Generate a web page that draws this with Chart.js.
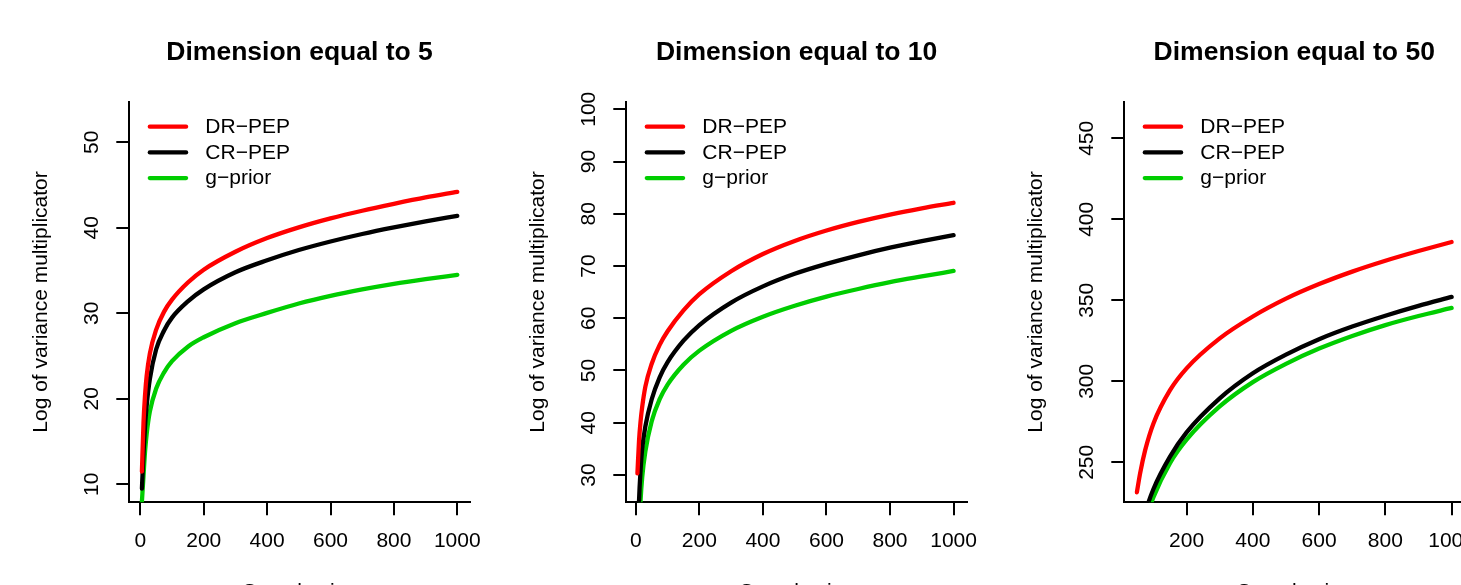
<!DOCTYPE html>
<html>
<head>
<meta charset="utf-8">
<script src="https://cdn.jsdelivr.net/npm/chart.js@4.4.0/dist/chart.umd.min.js"></script>
<style>
  html, body { margin: 0; padding: 0; background: #fff; overflow: hidden; }
  body { width: 1461px; height: 585px; position: relative; }
  .panel { position: absolute; top: 0; width: 520px; height: 620px; }
</style>
</head>
<body>
<div class="panel" style="left:0px"><canvas id="c5"></canvas></div>
<div class="panel" style="left:497px"><canvas id="c10"></canvas></div>
<div class="panel" style="left:995px"><canvas id="c50"></canvas></div>
<script>
// ---- data ----
const seriesNames = ['DR\u2212PEP', 'CR\u2212PEP', 'g\u2212prior'];
const seriesColors = ['#ff0000', '#000000', '#00cd00'];

// dimension 5
const sizes5 = [5, 10, 15, 20, 30, 50, 75, 100, 150, 200, 300, 400, 500, 600, 700, 800, 900, 1000];
const drpep5 = [11.5, 17.2, 20.5, 22.7, 25.3, 28.1, 30.2, 31.6, 33.6, 35.1, 37.2, 38.8, 40.05, 41.1, 42.0, 42.8, 43.55, 44.2];
const crpep5 = [9.5, 13.6, 16.9, 19.2, 22.3, 25.8, 28.0, 29.5, 31.4, 32.8, 34.8, 36.2, 37.4, 38.4, 39.28, 40.05, 40.75, 41.4];
const gprior5 = [8.0, 11.0, 13.9, 15.9, 18.5, 21.2, 23.1, 24.4, 26.1, 27.2, 28.85, 30.05, 31.15, 32.05, 32.8, 33.45, 34.0, 34.5];

// dimension 10
const sizes10 = [5, 10, 15, 20, 30, 50, 75, 100, 150, 200, 300, 400, 500, 600, 700, 800, 900, 1000];
const drpep10 = [30.3, 36.5, 40.3, 43.0, 46.9, 51.3, 54.9, 57.5, 61.5, 64.6, 69.0, 72.3, 74.8, 76.8, 78.45, 79.85, 81.05, 82.1];
const crpep10 = [14.0, 25.0, 31.0, 35.0, 39.3, 44.5, 48.7, 51.6, 55.7, 58.7, 63.0, 66.1, 68.5, 70.4, 72.05, 73.5, 74.75, 75.9];
const gprior10 = [5.0, 18.0, 25.2, 29.5, 34.5, 40.3, 44.5, 47.3, 51.1, 53.8, 57.6, 60.3, 62.4, 64.15, 65.6, 66.9, 68.0, 69.05];

// dimension 50
const sizes50 = [50, 60, 75, 100, 150, 200, 300, 400, 500, 600, 700, 800, 900, 1000];
const drpep50 = [231.5, 243.5, 257.5, 274, 294.5, 308, 326.5, 340, 351, 360, 367.7, 374.4, 380.4, 386];
const crpep50 = [198, 207.5, 219, 233.5, 253.5, 268.5, 289.5, 305, 316.5, 326, 333.8, 340.5, 346.6, 352.1];
const gprior50 = [194, 203, 214, 228.5, 249.5, 264, 284.5, 299.5, 310.8, 320.2, 328, 334.7, 340.3, 345.3];

// tick labels
const xTicks5 = [0, 200, 400, 600, 800, 1000];
const xTicks10 = [0, 200, 400, 600, 800, 1000];
const xTicks50 = [200, 400, 600, 800, 1000];
const yTicks5 = [10, 20, 30, 40, 50];
const yTicks10 = [30, 40, 50, 60, 70, 80, 90, 100];
const yTicks50 = [250, 300, 350, 400, 450];

const FONT = '"Liberation Sans", Arial, Helvetica, sans-serif';
const CANVAS_W = 520;
Chart.defaults.font.family = FONT;
Chart.defaults.font.size = 21;
Chart.defaults.color = '#000';

// measure widest y label so the rotated labels sit at a fixed distance from the axis
const mctx = document.createElement('canvas').getContext('2d');
mctx.font = '21px ' + FONT;
function widest(labels) {
    return Math.max(...labels.map(v => mctx.measureText(String(v)).width));
}

// R style legend drawn inside the plot area
const insetLegend = {
    id: 'insetLegend',
    afterDatasetsDraw(chart) {
        const { ctx, chartArea } = chart;
        ctx.save();
        ctx.font = '21px ' + FONT;
        ctx.textBaseline = 'middle';
        chart.data.datasets.forEach((ds, i) => {
            const y = chartArea.top + 25 + i * 25.7;
            ctx.strokeStyle = ds.borderColor;
            ctx.lineWidth = 4.3;
            ctx.lineCap = 'round';
            ctx.beginPath();
            ctx.moveTo(chartArea.left + 20.5, y);
            ctx.lineTo(chartArea.left + 56.8, y);
            ctx.stroke();
            ctx.fillStyle = '#000';
            ctx.fillText(ds.label, chartArea.left + 76, y + 0.6);
        });
        ctx.restore();
    }
};

function makePanel(id, dim, sizes, series, xRange, yRange, xTicks, yTicks, plotWidth) {
    const yPad = 36.6 - 13 - widest(yTicks) / 2;
    return new Chart(document.getElementById(id), {
        type: 'line',
        data: {
            datasets: series.map((vals, i) => ({
                label: seriesNames[i],
                data: sizes.map((x, j) => ({ x, y: vals[j] })),
                borderColor: seriesColors[i],
                borderWidth: 4.3,
                borderCapStyle: 'round',
                pointRadius: 0,
                cubicInterpolationMode: 'monotone',
                clip: 0
            }))
        },
        options: {
            responsive: true,
            maintainAspectRatio: false,
            animation: false,
            layout: { padding: { left: 0, top: 0, bottom: 0, right: CANVAS_W - 129.3 - plotWidth } },
            plugins: {
                legend: { display: false },
                tooltip: { enabled: false },
                title: {
                    display: true,
                    fullSize: false,
                    text: 'Dimension equal to ' + dim,
                    font: { size: 26.5, weight: 'bold' },
                    color: '#000',
                    padding: { top: 37, bottom: 32.9 }
                }
            },
            scales: {
                x: {
                    type: 'linear',
                    min: xRange[0],
                    max: xRange[1],
                    afterBuildTicks: s => { s.ticks = xTicks.map(v => ({ value: v })); },
                    afterFit: s => { s.height = 620 - 502.3; },
                    ticks: { autoSkip: false, maxRotation: 0, padding: 13.5, callback: v => String(v) },
                    grid: { drawOnChartArea: false, drawTicks: true, tickLength: 13, color: '#000', lineWidth: 2 },
                    border: { display: true, color: '#000', width: 2 },
                    title: { display: true, text: 'Sample size', padding: { top: 0, bottom: 15.2 } }
                },
                y: {
                    type: 'linear',
                    min: yRange[0],
                    max: yRange[1],
                    afterBuildTicks: s => { s.ticks = yTicks.map(v => ({ value: v })); },
                    afterFit: s => { s.width = 129.3; },
                    ticks: { autoSkip: false, minRotation: 90, maxRotation: 90, crossAlign: 'center', padding: yPad, callback: v => String(v) },
                    grid: { drawOnChartArea: false, drawTicks: true, tickLength: 13, color: '#000', lineWidth: 2 },
                    border: { display: true, color: '#000', width: 2 },
                    title: { display: true, text: 'Log of variance multiplicator', padding: { top: 28.5, bottom: 0 } }
                }
            }
        },
        plugins: [insetLegend]
    });
}

makePanel('c5', 5, sizes5, [drpep5, crpep5, gprior5], [-34.8, 1039.8], [7.9, 54.75], xTicks5, yTicks5, 340.6);
makePanel('c10', 10, sizes10, [drpep10, crpep10, gprior10], [-30, 1042], [24.77, 101.45], xTicks10, yTicks10, 340.6);
makePanel('c50', 50, sizes50, [drpep50, crpep50, gprior50], [12, 1038], [225.3, 472.6], xTicks50, yTicks50, 339.9);
</script>
</body>
</html>
